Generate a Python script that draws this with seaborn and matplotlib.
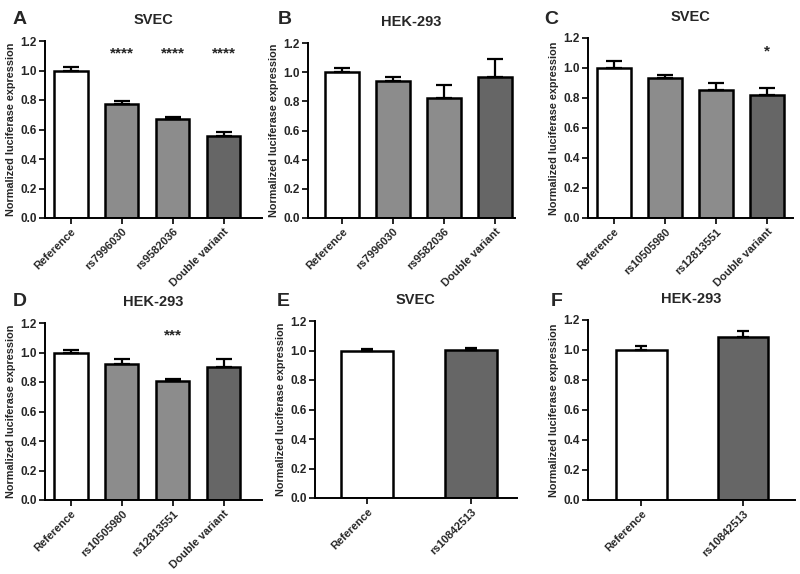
import matplotlib
matplotlib.use("Agg")
import matplotlib.pyplot as plt
import seaborn as sns
import pandas as pd
import numpy as np

sns.set_theme(style="ticks")
plt.rcParams['font.family'] = ['Liberation Sans', 'DejaVu Sans']
plt.rcParams['font.weight'] = 'bold'

# ---- data ----
cats_AB = ["Reference", "rs7996030", "rs9582036", "Double variant"]
cats_CD = ["Reference", "rs10505980", "rs12813551", "Double variant"]
cats_EF = ["Reference", "rs10842513"]

vals_A = [1.00, 0.77, 0.67, 0.555]
errs_A = [0.025, 0.025, 0.015, 0.03]
sig_A = ["", "****", "****", "****"]

vals_B = [1.00, 0.94, 0.82, 0.97]
errs_B = [0.03, 0.025, 0.09, 0.12]
sig_B = ["", "", "", ""]

vals_C = [1.00, 0.935, 0.855, 0.82]
errs_C = [0.05, 0.02, 0.045, 0.045]
sig_C = ["", "", "", "*"]

vals_D = [1.00, 0.925, 0.805, 0.905]
errs_D = [0.02, 0.03, 0.012, 0.05]
sig_D = ["", "", "***", ""]

vals_E = [1.00, 1.005]
errs_E = [0.01, 0.015]
sig_E = ["", ""]

vals_F = [1.00, 1.09]
errs_F = [0.03, 0.035]
sig_F = ["", ""]

yticks = [0.0, 0.2, 0.4, 0.6, 0.8, 1.0, 1.2]
titles = ["SVEC", "HEK-293", "SVEC", "HEK-293", "SVEC", "HEK-293"]
letters = ["A", "B", "C", "D", "E", "F"]

col4 = ["#ffffff", "#8c8c8c", "#8c8c8c", "#666666"]
col2 = ["#ffffff", "#666666"]

W, H = 800, 574
fig = plt.figure(figsize=(8, 5.74), dpi=100)

def px_axes(l, r, t, b):
    return fig.add_axes([l / W, 1 - b / H, (r - l) / W, (b - t) / H])

# (left, right, top(y=1.2), bottom(y=0)), xlim, bar width, letter position
panels = [
    (cats_AB, vals_A, errs_A, sig_A, col4, (45, 262, 41, 218), (-0.51, 3.75), 0.65, (13, 19)),
    (cats_AB, vals_B, errs_B, sig_B, col4, (308, 515, 43, 218), (-0.67, 3.39), 0.66, (278, 19)),
    (cats_CD, vals_C, errs_C, sig_C, col4, (588, 793, 38, 218), (-0.51, 3.51), 0.66, (544, 19)),
    (cats_CD, vals_D, errs_D, sig_D, col4, (45, 262, 323, 500), (-0.51, 3.75), 0.65, (13, 302)),
    (cats_EF, vals_E, errs_E, sig_E, col2, (315, 517, 321, 498), (-0.5, 1.44), 0.5, (277, 302)),
    (cats_EF, vals_F, errs_F, sig_F, col2, (588, 795, 320, 500), (-0.52, 1.51), 0.5, (551, 302)),
]

for i, (cats, vals, errs, sig, cols, box, xl, bw, lpos) in enumerate(panels):
    l, r, t, b = box
    ax = px_axes(l, r, t, b)
    df = pd.DataFrame({"cat": cats, "val": vals})
    sns.barplot(data=df, x="cat", y="val", hue="cat", palette=cols, legend=False,
                ax=ax, width=bw, edgecolor="black", linewidth=1.8, errorbar=None,
                saturation=1)
    xs = np.arange(len(cats))
    ax.errorbar(xs, vals, yerr=[np.zeros(len(errs)), errs], fmt="none",
                ecolor="black", elinewidth=1.6, capsize=bw * 9, capthick=1.6, zorder=5)
    for x, v, s in zip(xs, vals, sig):
        if s:
            ax.text(x, 1.065, s, ha="center", va="bottom",
                    fontsize=11, fontweight="bold")
    ax.set_ylim(0, 1.2)
    ax.set_xlim(*xl)
    ax.set_yticks(yticks)
    ax.set_yticklabels([f"{v:.1f}" for v in yticks], fontsize=8.5, fontweight="bold")
    ax.set_xticks(xs)
    ax.set_xticklabels(cats, rotation=45, ha="right", rotation_mode="anchor",
                       fontsize=8, fontweight="bold")
    ax.set_xlabel("")
    ax.set_ylabel("Normalized luciferase expression", fontsize=7.8, fontweight="bold",
                  labelpad=3)
    for sp in ["top", "right"]:
        ax.spines[sp].set_visible(False)
    for sp in ["left", "bottom"]:
        ax.spines[sp].set_linewidth(1.4)
        ax.spines[sp].set_color("black")
    ax.tick_params(axis="both", length=4, width=1.2, color="black", pad=2)
    ax.set_title(titles[i], fontsize=10.5, fontweight="bold", pad=12)
    fig.text(lpos[0] / W, 1 - lpos[1] / H, letters[i], fontsize=14,
             fontweight="bold", va="center", ha="left")

fig.savefig("out.png", dpi=100, facecolor="white")
